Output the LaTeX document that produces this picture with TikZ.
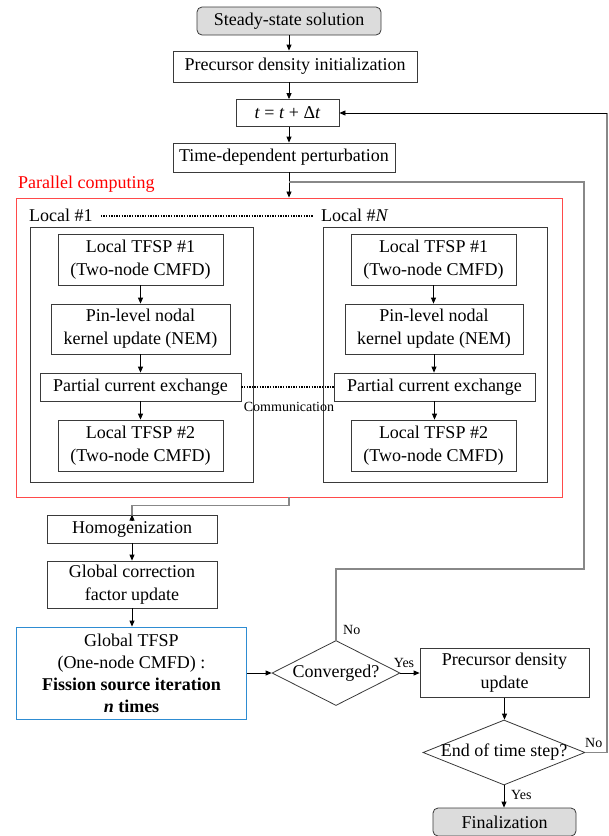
\documentclass[tikz,border=0pt]{standalone}
\usepackage{fontspec}
\setmainfont{Liberation Serif}
\usetikzlibrary{arrows.meta,shapes.geometric}
\definecolor{boxc}{HTML}{3A3A3A}
\definecolor{linec}{HTML}{888888}
\definecolor{redc}{HTML}{FF4A4A}
\definecolor{bluec}{HTML}{2E8CD2}
\definecolor{fillc}{HTML}{DCDCDC}
\newcommand\fsmain{\fontsize{18}{23}\selectfont}
\newcommand\fssmall{\fontsize{14}{16}\selectfont}
\tikzset{
  box/.style={draw=boxc, line width=0.8pt, inner sep=0pt, align=center, font=\fsmain},
  termbox/.style={box, rounded corners=5pt, fill=fillc},
  decbox/.style={draw=boxc, line width=0.8pt, diamond, inner sep=0pt, font=\fsmain},
  arr/.style={-{Triangle[length=6pt,width=5pt]}, line width=0.8pt, draw=black},
  gline/.style={line width=1.2pt, draw=linec},
  dots/.style={line width=1.6pt, dash pattern=on 1.3pt off 1.3pt},
  lbl/.style={inner sep=0pt, font=\fssmall},
}
\begin{document}
\begin{tikzpicture}[x=1pt,y=-1pt]
\useasboundingbox (0,0) rectangle (609,836);
% main column
\node[termbox, minimum width=184pt, minimum height=28pt] (ss) at (289,21) {Steady-state solution};
\node[box, minimum width=244pt, minimum height=31pt] (pdi) at (295,66.5) {Precursor density initialization};
\node[box, minimum width=103pt, minimum height=27pt] (tt) at (287.5,113) {\textit{t} = \textit{t} + Δ\textit{t}};
\node[box, minimum width=222pt, minimum height=29pt] (tdp) at (284,157.5) {Time-dependent perturbation};
% parallel region
\node[draw=redc, line width=0.9pt, minimum width=546pt, minimum height=299pt, inner sep=0pt] (red) at (289,347.5) {};
\node[anchor=west, inner sep=0pt, text=red, font=\fsmain] (par) at (18,184) {Parallel computing};
\node[anchor=west, inner sep=0pt, font=\fsmain] (l1) at (29,215) {Local \#1};
\node[anchor=west, inner sep=0pt, font=\fsmain] (lN) at (321,215) {Local \#\textit{N}};
\draw[dots] ([xshift=8pt,yshift=-1pt]l1.east) -- ([xshift=-8pt,yshift=-1pt]lN.west);
\node[draw=boxc, line width=0.8pt, minimum width=223pt, minimum height=255pt, inner sep=0pt] (lb) at (141.5,354.5) {};
\node[draw=boxc, line width=0.8pt, minimum width=224pt, minimum height=255pt, inner sep=0pt] (rb) at (435,354.5) {};
% left local
\node[box, minimum width=165pt, minimum height=51pt] (a1) at (140.5,259.5) {Local TFSP \#1\\(Two-node CMFD)};
\node[box, minimum width=179pt, minimum height=50pt] (a2) at (140.5,329) {Pin-level nodal\\kernel update (NEM)};
\node[box, minimum width=201pt, minimum height=28pt] (a3) at (140.5,387) {Partial current exchange};
\node[box, minimum width=165pt, minimum height=51pt] (a4) at (140.5,445.5) {Local TFSP \#2\\(Two-node CMFD)};
% right local
\node[box, minimum width=165pt, minimum height=51pt] (b1) at (433.5,259.5) {Local TFSP \#1\\(Two-node CMFD)};
\node[box, minimum width=178pt, minimum height=50pt] (b2) at (434,329) {Pin-level nodal\\kernel update (NEM)};
\node[box, minimum width=201pt, minimum height=28pt] (b3) at (434.5,387) {Partial current exchange};
\node[box, minimum width=165pt, minimum height=51pt] (b4) at (433.5,445.5) {Local TFSP \#2\\(Two-node CMFD)};
\draw[dots] (a3.east) -- (b3.west);
\node[lbl] (comm) at (289,407) {Communication};
\foreach \p/\q in {a1/a2,a2/a3,a3/a4,b1/b2,b2/b3,b3/b4}
  \draw[arr] (\p.south) -- (\p.south |- \q.north);
% lower part
\node[box, minimum width=170pt, minimum height=28pt] (homog) at (132,529) {Homogenization};
\node[box, minimum width=170pt, minimum height=47pt] (gcf) at (132,584.5) {Global correction\\factor update};
\node[box, draw=bluec, minimum width=230pt, minimum height=92pt, font=\fontsize{18}{22}\selectfont] (blue) at (131.5,673) {Global TFSP\\(One-node CMFD) :\\\textbf{Fission source iteration}\\\textbf{\textit{n} times}};
\node[decbox, minimum width=128pt, minimum height=65pt] (conv) at (336,673) {\makebox[0pt]{Converged?}};
\node[box, minimum width=169pt, minimum height=49pt] (pdu) at (504.5,673) {Precursor density\\update};
\node[decbox, minimum width=162pt, minimum height=65pt] (etd) at (504,752.5) {\makebox[0pt]{End of time step?}};
\node[termbox, minimum width=143pt, minimum height=28pt] (fin) at (504.5,822) {Finalization};
% connectors main
\draw[arr] (ss.south) -- (ss.south |- pdi.north);
\draw[arr] (ss.south |- pdi.south) -- (ss.south |- tt.north);
\draw[arr] (ss.south |- tt.south) -- (ss.south |- tdp.north);
\draw[arr] (ss.south |- tdp.south) -- (ss.south |- red.north);
\draw[gline] (red.south) -- ++(0,8) -| ([yshift=-6pt]homog.north);
\draw[arr] ([yshift=-6.5pt]homog.north) -- (homog.north);
\draw[arr] (homog.south) -- (homog.south |- gcf.north);
\draw[arr] (gcf.south) -- (gcf.south |- blue.north);
\draw[arr] (blue.east) -- (conv.west);
\draw[arr] (conv.east) -- (pdu.west);
\draw[arr] (pdu.south) -- (pdu.south |- etd.north);
\draw[arr] (etd.south) -- (etd.south |- fin.north);
% feedback: not converged
\coordinate (c1) at (584,569);
\coordinate (c2) at (584,182);
\draw[gline] (conv.north) |- (c1) -- (c2) -- (c2 -| ss.south);
% feedback: next time step
\coordinate (f1) at (607,113);
\draw[gline] (etd.east) -| (f1);
\draw[arr] (f1) -- (tt.east);
% labels
\node[lbl, anchor=west] (no1) at (343,630) {No};
\node[lbl, anchor=south] (yes1) at (404,668) {Yes};
\node[lbl, anchor=west] (no2) at (585,743) {No};
\node[lbl, anchor=west] (yes2) at (511,795) {Yes};
\end{tikzpicture}
\end{document}
